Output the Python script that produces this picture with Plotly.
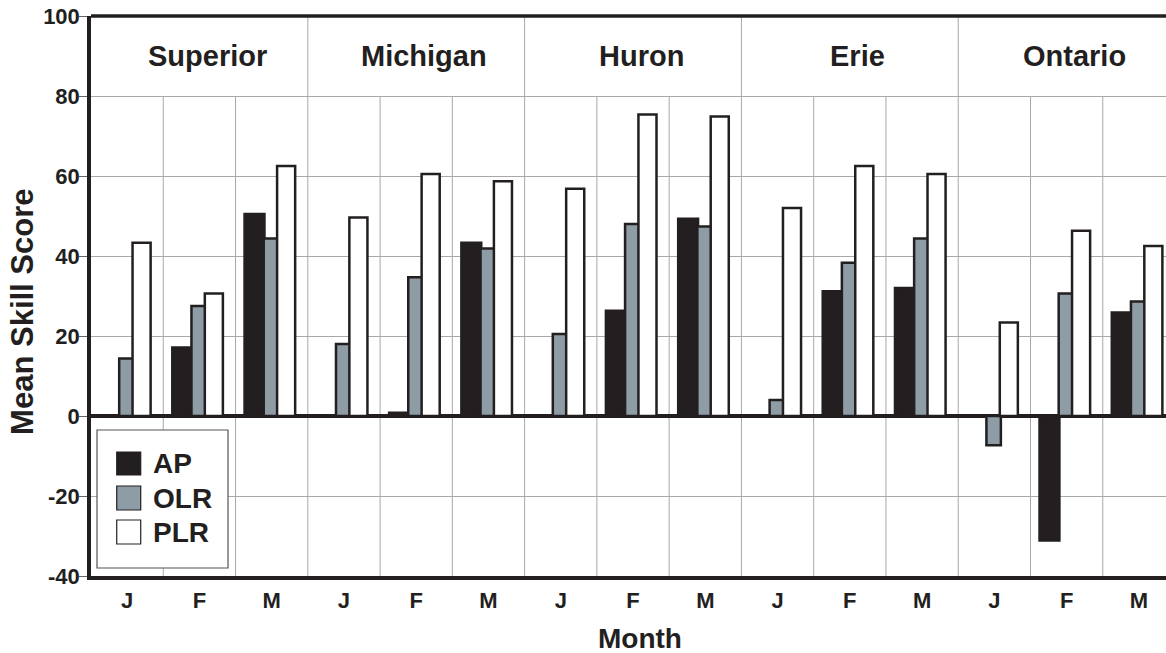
import plotly.graph_objects as go

lakes = ["Superior", "Michigan", "Huron", "Erie", "Ontario"]
months = ["J", "F", "M"]
series_names = ["AP", "OLR", "PLR"]

ap = [None, 17.1, 50.5,
      None, 0.8, 43.3,
      None, 26.3, 49.3,
      None, 31.2, 32.0,
      None, -31.1, 25.9]
olr = [14.4, 27.5, 44.4,
       18.0, 34.7, 41.9,
       20.5, 48.0, 47.4,
       4.0, 38.3, 44.4,
       -7.3, 30.6, 28.6]
plr = [43.3, 30.6, 62.5,
       49.6, 60.5, 58.7,
       56.8, 75.4, 74.9,
       52.0, 62.5, 60.5,
       23.4, 46.3, 42.5]

y_tickvals = [-40, -20, 0, 20, 40, 60, 80, 100]
y_ticktext = ["-40", "-20", "0", "20", "40", "60", "80", "100"]

ticklabels = [m for _ in lakes for m in months]
xpos = list(range(len(ticklabels)))

INK = "#231f20"
GRAY = "#8d9ca5"
GRID = "#a8a8a8"
FONT = "Liberation Sans, Arial, sans-serif"

fig = go.Figure()
styles = {
    "AP": dict(fill=INK, offset=-0.375, width=0.275),
    "OLR": dict(fill=GRAY, offset=-0.11, width=0.20),
    "PLR": dict(fill="#ffffff", offset=0.075, width=0.25),
}
for name, vals in zip(series_names, [ap, olr, plr]):
    st = styles[name]
    fig.add_trace(go.Bar(
        x=xpos, y=vals, name=name,
        offset=st["offset"], width=st["width"],
        marker=dict(color=st["fill"], line=dict(color=INK, width=2.5)),
        showlegend=False,
    ))

shapes = []
n = len(ticklabels)
# vertical month dividers (up to 80) and lake dividers (full height)
for i in range(n - 1):
    b = i + 0.5
    if (i + 1) % len(months) == 0:
        shapes.append(dict(type="line", xref="x", yref="y", x0=b, x1=b, y0=-40, y1=100,
                           line=dict(color=GRID, width=1), layer="below"))
    else:
        shapes.append(dict(type="line", xref="x", yref="y", x0=b, x1=b, y0=-40, y1=80,
                           line=dict(color=GRID, width=1), layer="below"))
# top border
shapes.append(dict(type="line", xref="paper", yref="paper", x0=0, x1=1, y0=1, y1=1,
                   line=dict(color=INK, width=3.5), layer="above"))

annotations = []
for k, lake in enumerate(lakes):
    annotations.append(dict(x=k * len(months) + 1, y=90, xref="x", yref="y", text=lake,
                            showarrow=False, xshift=8,
                            font=dict(family=FONT, size=29, color=INK, weight="bold")))

# manual legend
shapes.append(dict(type="rect", xref="x", yref="y", x0=-0.417, x1=1.396, y0=-38, y1=-3.5,
                   line=dict(color="#555555", width=1.2), fillcolor="white", layer="above"))
leg_fill = {"AP": INK, "OLR": GRAY, "PLR": "#ffffff"}
leg_y = [(-9, -14.75), (-17.5, -23.5), (-26, -32)]
for name, (ya, yb) in zip(series_names, leg_y):
    shapes.append(dict(type="rect", xref="x", yref="y", x0=-0.144, x1=0.188, y0=yb, y1=ya,
                       line=dict(color=INK, width=1.2), fillcolor=leg_fill[name], layer="above"))
    annotations.append(dict(x=0.33, y=(ya + yb) / 2, xref="x", yref="y", text=name,
                            showarrow=False, xanchor="left", yanchor="middle",
                            font=dict(family=FONT, size=28, color=INK, weight="bold")))

# axis titles
annotations.append(dict(x=-0.064, y=0.472, xref="paper", yref="paper", text="Mean Skill Score",
                        showarrow=False, textangle=-90, xanchor="center", yanchor="middle",
                        font=dict(family=FONT, size=31, color=INK, weight="bold")))
annotations.append(dict(x=0.511, y=-0.111, xref="paper", yref="paper", text="Month",
                        showarrow=False, xanchor="center", yanchor="middle",
                        font=dict(family=FONT, size=28, color=INK, weight="bold")))

fig.update_layout(
    width=1166, height=653,
    margin=dict(l=91, r=0, t=16, b=77),
    paper_bgcolor="white", plot_bgcolor="white",
    barmode="overlay",
    shapes=shapes, annotations=annotations,
    xaxis=dict(range=[-0.5, 14.375], tickmode="array", tickvals=xpos, ticktext=ticklabels,
               showgrid=False, zeroline=False, showline=True, linecolor=INK, linewidth=3.5,
               ticks="", ticklabelstandoff=2,
               tickfont=dict(family=FONT, size=22, color=INK, weight="bold")),
    yaxis=dict(range=[-40, 100], tickmode="array", tickvals=y_tickvals, ticktext=y_ticktext,
               showgrid=True, gridcolor=GRID, gridwidth=1,
               zeroline=True, zerolinecolor=INK, zerolinewidth=3.5,
               showline=True, linecolor=INK, linewidth=3.5,
               ticks="outside", ticklen=8, tickwidth=1.2, tickcolor="#666666",
               ticklabelstandoff=-5,
               tickfont=dict(family=FONT, size=22, color=INK, weight="bold")),
)

fig.write_html(
    "out.html",
    config={"displayModeBar": False},
    post_script="document.body.style.margin='0';document.body.style.padding='0';"
                "document.body.style.overflow='hidden';",
)
